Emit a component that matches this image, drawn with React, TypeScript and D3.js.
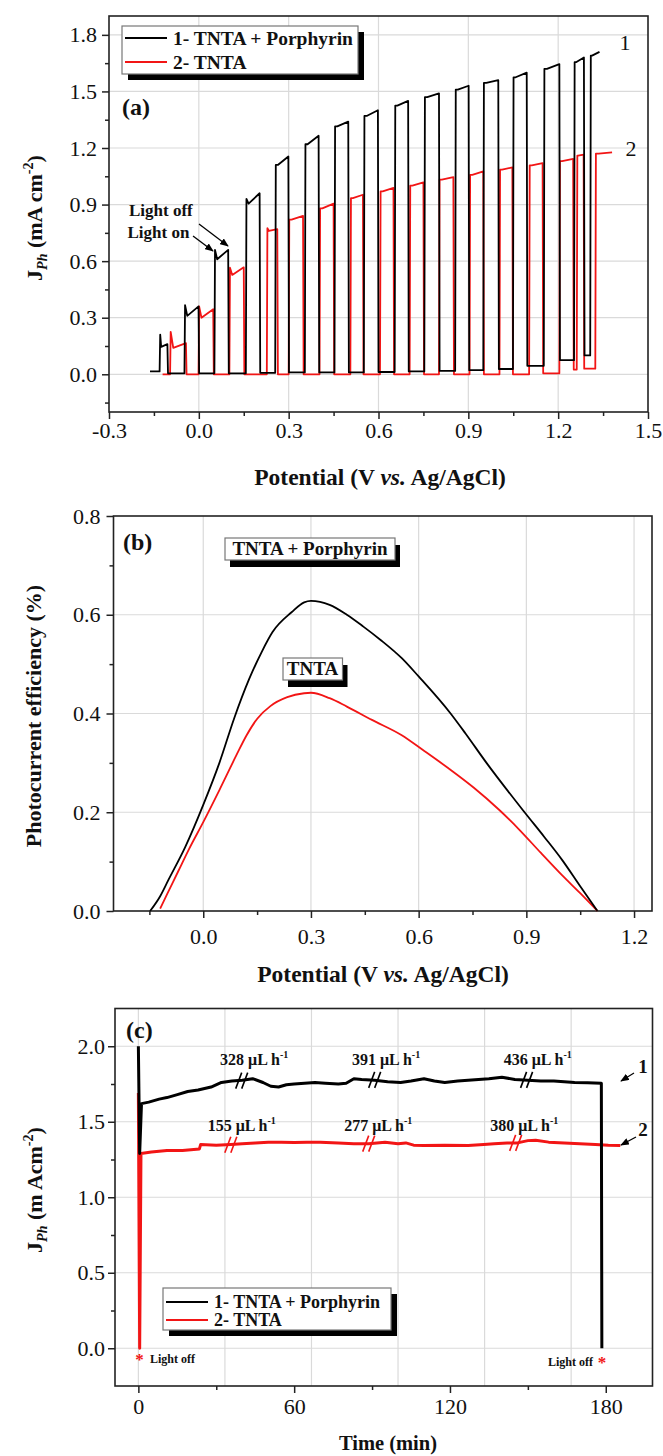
import { useEffect, useRef } from "react";
import * as d3 from "d3";

// ---------- (a) chopped-light photocurrent vs potential ----------
// pulse edges (V) and current levels (mA cm-2)
const aBlackStart = -0.163;
const aBlackOn = [-0.131, -0.048, 0.052, 0.157, 0.255, 0.354, 0.453, 0.551, 0.654, 0.753, 0.856, 0.95, 1.049, 1.152, 1.253, 1.307];
const aBlackOff = [-0.105, -0.001, 0.098, 0.203, 0.299, 0.4, 0.499, 0.598, 0.699, 0.802, 0.901, 1.0, 1.095, 1.204, 1.286, 1.338];
const aBlackSpike = [0.21, 0.367, 0.66, 0.93, 1.11, 1.22, 1.315, 1.37, 1.425, 1.47, 1.51, 1.545, 1.575, 1.62, 1.655, 1.69];
const aBlackLow = [0.145, 0.31, 0.61, 0.905, 1.11, 1.22, 1.315, 1.37, 1.425, 1.47, 1.51, 1.545, 1.575, 1.62, 1.655, 1.69];
const aBlackHigh = [0.16, 0.36, 0.66, 0.96, 1.155, 1.265, 1.34, 1.4, 1.45, 1.49, 1.53, 1.56, 1.6, 1.645, 1.68, 1.71];
const aBlackDark = [0.015, 0.005, 0.005, 0.005, 0.008, 0.01, 0.01, 0.01, 0.012, 0.015, 0.018, 0.022, 0.028, 0.045, 0.075, 0.1];

const aRedStart = -0.121;
const aRedOn = [-0.096, -0.001, 0.102, 0.227, 0.3, 0.403, 0.506, 0.605, 0.704, 0.802, 0.904, 1.004, 1.103, 1.204, 1.262, 1.324];
const aRedOff = [-0.043, 0.048, 0.15, 0.262, 0.348, 0.45, 0.548, 0.65, 0.75, 0.85, 0.95, 1.047, 1.148, 1.25, 1.285, 1.38];
const aRedSpike = [0.225, 0.36, 0.565, 0.775, 0.82, 0.88, 0.934, 0.97, 1.0, 1.032, 1.058, 1.085, 1.108, 1.13, 1.16, 1.17];
const aRedLow = [0.14, 0.3, 0.527, 0.76, 0.82, 0.88, 0.934, 0.97, 1.0, 1.032, 1.058, 1.085, 1.108, 1.13, 1.16, 1.17];
const aRedHigh = [0.165, 0.345, 0.567, 0.77, 0.84, 0.905, 0.952, 0.988, 1.018, 1.046, 1.076, 1.097, 1.12, 1.142, 1.165, 1.177];
const aRedDark = [0, 0, 0, 0, 0, 0, 0, 0, 0, 0, 0, 0, 0, 0.005, 0.025, 0.03];

// ---------- (b) photocurrent efficiency ----------
const bBlackV = [-0.148, -0.12, -0.097, -0.05, 0.0, 0.045, 0.086, 0.128, 0.163, 0.193, 0.246, 0.281, 0.3, 0.352, 0.4, 0.446, 0.494, 0.553, 0.6, 0.689, 0.73, 0.789, 0.895, 0.95, 1.0, 1.05, 1.098];
const bBlackE = [0, 0.03, 0.063, 0.13, 0.215, 0.3, 0.39, 0.47, 0.525, 0.565, 0.605, 0.625, 0.628, 0.62, 0.6, 0.576, 0.549, 0.512, 0.475, 0.4, 0.36, 0.3, 0.2, 0.15, 0.103, 0.05, 0];
const bRedV = [-0.12, -0.1, -0.07, -0.04, 0.0, 0.045, 0.092, 0.12, 0.151, 0.187, 0.234, 0.281, 0.3, 0.352, 0.4, 0.47, 0.553, 0.612, 0.683, 0.753, 0.824, 0.88, 0.94, 1.0, 1.05, 1.098];
const bRedE = [0.005, 0.035, 0.08, 0.125, 0.18, 0.245, 0.315, 0.355, 0.39, 0.415, 0.433, 0.441, 0.442, 0.431, 0.414, 0.387, 0.356, 0.326, 0.289, 0.25, 0.205, 0.165, 0.118, 0.072, 0.036, 0];

// ---------- (c) long-term photocurrent ----------
const cBlackT = [0, 0.5, 1.2, 4, 8, 11, 15, 19, 23, 28, 32, 36, 40, 44, 48, 51, 54, 57, 60, 64, 68, 72, 77, 80, 83, 86, 91, 96, 101, 105, 110, 114, 118, 123, 127, 131, 135, 140, 145, 150, 155, 160, 164, 168, 173, 178.3, 178.5];
const cBlackJ = [2.0, 1.29, 1.62, 1.63, 1.65, 1.66, 1.68, 1.7, 1.71, 1.73, 1.76, 1.77, 1.775, 1.785, 1.76, 1.735, 1.73, 1.745, 1.75, 1.755, 1.76, 1.755, 1.75, 1.755, 1.785, 1.78, 1.775, 1.765, 1.76, 1.77, 1.785, 1.77, 1.76, 1.77, 1.775, 1.78, 1.785, 1.795, 1.78, 1.775, 1.77, 1.77, 1.765, 1.76, 1.758, 1.755, 0.0];
const cRedT = [0, 0.5, 1, 5, 11, 17, 23.5, 24, 30, 35.6, 40, 45, 50, 55, 60, 65, 70, 77, 83, 88.7, 95, 100, 103, 106, 110, 118, 127, 133, 137, 142, 146, 150, 153, 158, 164, 170, 176, 181, 185.6];
const cRedJ = [1.69, 0.0, 1.29, 1.3, 1.31, 1.31, 1.32, 1.35, 1.345, 1.35, 1.355, 1.36, 1.365, 1.365, 1.362, 1.365, 1.365, 1.36, 1.355, 1.355, 1.365, 1.355, 1.36, 1.345, 1.343, 1.345, 1.343, 1.35, 1.355, 1.36, 1.36, 1.375, 1.378, 1.365, 1.36, 1.355, 1.35, 1.345, 1.343];
const cBlackBreaks = [39.8, 91, 149.5];
const cRedBreaks = [35.6, 88.7, 145.3];
const cBlackRates = ["328", "391", "436"];
const cBlackRateT = [44.6, 95.4, 153.8];
const cRedRates = ["155", "277", "380"];
const cRedRateT = [39.8, 92.4, 148.6];

const legendNames = ["1- TNTA + Porphyrin", "2- TNTA"];

const FONT = "'Liberation Serif', 'Times New Roman', serif";
const RED = "#f21515";
const INK = "#111";

type Scale = d3.ScaleLinear<number, number>;

function pulseTrain(start: number, on: number[], off: number[], spike: number[], low: number[], high: number[], dark: number[]) {
  const pts: [number, number][] = [[start, dark[0]]];
  on.forEach((v, i) => {
    const w = off[i] - v;
    pts.push([v, dark[i]], [v + 0.002, spike[i]], [v + 0.2 * w, low[i]], [off[i], high[i]]);
    if (i + 1 < on.length) pts.push([off[i] + 0.002, dark[i + 1]]);
  });
  return pts;
}

function drawFrame(g: any, x: Scale, y: Scale, o: any) {
  const [l, r] = x.range();
  const [b, t] = y.range();
  g.append("g").selectAll("line").data(o.xGrid).join("line")
    .attr("x1", (d: number) => x(d)).attr("x2", (d: number) => x(d)).attr("y1", b).attr("y2", t)
    .attr("stroke", "#dadada").attr("stroke-width", 1.2);
  g.append("g").selectAll("line").data(o.yGrid).join("line")
    .attr("y1", (d: number) => y(d)).attr("y2", (d: number) => y(d)).attr("x1", l).attr("x2", r)
    .attr("stroke", "#dadada").attr("stroke-width", 1.2);

  const style = (ax: any) => {
    ax.select(".domain").remove();
    ax.selectAll("line").attr("stroke", "#222").attr("stroke-width", 1.5);
    ax.selectAll("text").attr("font-family", FONT).attr("font-size", 22).attr("fill", INK);
  };
  style(g.append("g").attr("transform", `translate(0,${b})`)
    .call(d3.axisBottom(x).tickValues(o.xMajor).tickSize(7).tickPadding(o.xPad).tickFormat(o.xFmt)));
  style(g.append("g").attr("transform", `translate(0,${b})`)
    .call(d3.axisBottom(x).tickValues(o.xMinor).tickSize(4).tickFormat(() => "")));
  style(g.append("g").attr("transform", `translate(${l},0)`)
    .call(d3.axisLeft(y).tickValues(o.yMajor).tickSize(7).tickPadding(o.yPad).tickFormat(o.yFmt)));
  style(g.append("g").attr("transform", `translate(${l},0)`)
    .call(d3.axisLeft(y).tickValues(o.yMinor).tickSize(4).tickFormat(() => "")));

  g.append("rect").attr("x", l).attr("y", t).attr("width", r - l).attr("height", b - t)
    .attr("fill", "none").attr("stroke", "#222").attr("stroke-width", 1.6);
}

function jTitle(g: any, cx: number, cy: number, unit: string) {
  const t = g.append("text").attr("transform", `translate(${cx},${cy}) rotate(-90)`)
    .attr("text-anchor", "middle").attr("font-family", FONT).attr("font-weight", "bold")
    .attr("font-size", 22).attr("fill", INK);
  t.append("tspan").text("J");
  t.append("tspan").attr("font-size", 14).attr("font-style", "italic").attr("dy", 5).text("Ph");
  t.append("tspan").attr("dy", -5).text(` (${unit}`);
  t.append("tspan").attr("font-size", 14).attr("dy", -9).text("-2");
  t.append("tspan").attr("dy", 9).text(")");
}

function xTitle(g: any, cx: number, by: number, size: number, potential: boolean) {
  const t = g.append("text").attr("x", cx).attr("y", by).attr("text-anchor", "middle")
    .attr("font-family", FONT).attr("font-weight", "bold").attr("font-size", size).attr("fill", INK);
  if (potential) {
    t.append("tspan").text("Potential (V ");
    t.append("tspan").attr("font-style", "italic").text("vs.");
    t.append("tspan").text(" Ag/AgCl)");
  } else t.text("Time (min)");
}

function shadowBox(g: any, x0: number, y0: number, w: number, h: number, dx: number, dy: number) {
  g.append("rect").attr("x", x0 + dx).attr("y", y0 + dy).attr("width", w).attr("height", h).attr("fill", "#000");
  g.append("rect").attr("x", x0).attr("y", y0).attr("width", w).attr("height", h)
    .attr("fill", "#fff").attr("stroke", "#777").attr("stroke-width", 1.2);
}

function legend(g: any, x0: number, y0: number, w: number, h: number, size: number, rows: number[]) {
  shadowBox(g, x0, y0, w, h, 6, 6);
  legendNames.forEach((name, i) => {
    g.append("line").attr("x1", x0 + 3).attr("x2", x0 + 45).attr("y1", rows[i]).attr("y2", rows[i])
      .attr("stroke", i === 0 ? "#000" : RED).attr("stroke-width", 2);
    g.append("text").attr("x", x0 + 51).attr("y", rows[i]).attr("dy", "0.35em")
      .attr("font-family", FONT).attr("font-weight", "bold").attr("font-size", size).attr("fill", INK).text(name);
  });
}

function label(g: any, x0: number, y0: number, text: string, size: number, weight = "bold", anchor = "start", fill = INK) {
  return g.append("text").attr("x", x0).attr("y", y0).attr("text-anchor", anchor)
    .attr("font-family", FONT).attr("font-weight", weight).attr("font-size", size).attr("fill", fill).text(text);
}

function arrow(g: any, x1: number, y1: number, x2: number, y2: number) {
  g.append("line").attr("x1", x1).attr("y1", y1).attr("x2", x2).attr("y2", y2)
    .attr("stroke", "#000").attr("stroke-width", 1.3).attr("marker-end", "url(#head)");
}

const fmt1 = (d: number) => d.toFixed(1);

const App = () => {
  const svgRef = useRef<SVGSVGElement>(null);

  useEffect(() => {
    const svg = d3.select(svgRef.current);
    svg.selectAll("*").remove();
    svg.append("defs").append("marker").attr("id", "head").attr("viewBox", "0 0 10 8")
      .attr("refX", 9).attr("refY", 4).attr("markerUnits", "userSpaceOnUse")
      .attr("markerWidth", 9).attr("markerHeight", 7).attr("orient", "auto")
      .append("path").attr("d", "M0,0 L10,4 L0,8 Z").attr("fill", "#000");

    // ----- panel (a) -----
    const ga = svg.append("g");
    const xa = d3.scaleLinear().domain([-0.3, 1.5]).range([109, 648]);
    const ya = d3.scaleLinear().domain([-0.2, 1.9]).range([412, 16]);
    drawFrame(ga, xa, ya, {
      xGrid: [0, 0.3, 0.6, 0.9, 1.2], yGrid: [0, 0.3, 0.6, 0.9, 1.2, 1.5, 1.8],
      xMajor: [-0.3, 0, 0.3, 0.6, 0.9, 1.2, 1.5], xMinor: [-0.15, 0.15, 0.45, 0.75, 1.05, 1.35],
      yMajor: [0, 0.3, 0.6, 0.9, 1.2, 1.5, 1.8], yMinor: [-0.15, 0.15, 0.45, 0.75, 1.05, 1.35, 1.65],
      xPad: 3, yPad: 5, xFmt: fmt1, yFmt: fmt1,
    });
    const lineA = d3.line<[number, number]>().x((d) => xa(d[0])).y((d) => ya(d[1]));
    ga.append("path").attr("d", lineA(pulseTrain(aRedStart, aRedOn, aRedOff, aRedSpike, aRedLow, aRedHigh, aRedDark)))
      .attr("fill", "none").attr("stroke", RED).attr("stroke-width", 1.8).attr("stroke-linejoin", "round");
    ga.append("path").attr("d", lineA(pulseTrain(aBlackStart, aBlackOn, aBlackOff, aBlackSpike, aBlackLow, aBlackHigh, aBlackDark)))
      .attr("fill", "none").attr("stroke", "#000").attr("stroke-width", 1.8).attr("stroke-linejoin", "round");
    legend(ga, 122, 26, 236, 48, 19.5, [38, 62]);
    label(ga, 122, 115, "(a)", 24);
    label(ga, 625, 50, "1", 22, "normal", "middle");
    label(ga, 631, 156, "2", 22, "normal", "middle");
    label(ga, 129, 216, "Light off", 17);
    label(ga, 127.5, 238, "Light on", 17);
    arrow(ga, 199, 224, 228, 246);
    arrow(ga, 193, 236, 213, 251);
    jTitle(ga, 42, 218, "mA cm");
    xTitle(ga, 380, 485, 23.5, true);

    // ----- panel (b) -----
    const gb = svg.append("g");
    const xb = d3.scaleLinear().domain([-0.25, 1.25]).range([113.5, 652]);
    const yb = d3.scaleLinear().domain([0, 0.8]).range([911, 516]);
    drawFrame(gb, xb, yb, {
      xGrid: [0, 0.3, 0.6, 0.9, 1.2], yGrid: [0.2, 0.4, 0.6],
      xMajor: [0, 0.3, 0.6, 0.9, 1.2], xMinor: [-0.15, 0.15, 0.45, 0.75, 1.05],
      yMajor: [0, 0.2, 0.4, 0.6, 0.8], yMinor: [0.1, 0.3, 0.5, 0.7],
      xPad: 10, yPad: 6, xFmt: fmt1, yFmt: fmt1,
    });
    const lineB = d3.line<number>().curve(d3.curveMonotoneX);
    gb.append("path")
      .attr("d", lineB.x((_, i) => xb(bRedV[i])).y((d) => yb(d))(bRedE))
      .attr("fill", "none").attr("stroke", RED).attr("stroke-width", 1.8);
    gb.append("path")
      .attr("d", lineB.x((_, i) => xb(bBlackV[i])).y((d) => yb(d))(bBlackE))
      .attr("fill", "none").attr("stroke", "#000").attr("stroke-width", 1.8);
    label(gb, 123, 550, "(b)", 24);
    shadowBox(gb, 225, 538, 170, 22, 5, 7);
    label(gb, 310, 555, "TNTA + Porphyrin", 19, "bold", "middle");
    shadowBox(gb, 283, 658, 59.5, 22, 5, 7);
    label(gb, 312.5, 675, "TNTA", 19, "bold", "middle");
    gb.append("text").attr("transform", "translate(41,716) rotate(-90)").attr("text-anchor", "middle")
      .attr("font-family", FONT).attr("font-weight", "bold").attr("font-size", 22).attr("fill", INK)
      .text("Photocurrent efficiency (%)");
    xTitle(gb, 383, 982, 23.5, true);

    // ----- panel (c) -----
    const gc = svg.append("g");
    const xc = d3.scaleLinear().domain([-9, 198]).range([115, 652.5]);
    const yc = d3.scaleLinear().domain([-0.25, 2.25]).range([1386, 1008.5]);
    drawFrame(gc, xc, yc, {
      xGrid: [0, 200 / 6, 400 / 6, 100, 800 / 6, 1000 / 6], yGrid: [0, 0.5, 1, 1.5, 2],
      xMajor: [0, 60, 120, 180], xMinor: [30, 90, 150],
      yMajor: [0, 0.5, 1, 1.5, 2], yMinor: [0.25, 0.75, 1.25, 1.75],
      xPad: 5, yPad: 3, xFmt: (d: number) => String(d), yFmt: fmt1,
    });
    const lineC = d3.line<number>();
    gc.append("path")
      .attr("d", lineC.x((_, i) => xc(cRedT[i])).y((d) => yc(d))(cRedJ))
      .attr("fill", "none").attr("stroke", RED).attr("stroke-width", 3).attr("stroke-linejoin", "round");
    gc.append("path")
      .attr("d", lineC.x((_, i) => xc(cBlackT[i])).y((d) => yc(d))(cBlackJ))
      .attr("fill", "none").attr("stroke", "#000").attr("stroke-width", 3).attr("stroke-linejoin", "round");

    const breaks = (ts: number[], tt: number[], jj: number[], color: string) => {
      ts.forEach((t) => {
        const px = xc(t);
        const k = d3.bisectLeft(tt, t);
        const py = yc((jj[k - 1] + jj[k]) / 2);
        [-3, 3].forEach((dx) => {
          gc.append("line").attr("x1", px + dx - 3).attr("y1", py + 8).attr("x2", px + dx + 3).attr("y2", py - 8)
            .attr("stroke", color).attr("stroke-width", 1.6);
        });
      });
    };
    breaks(cBlackBreaks, cBlackT, cBlackJ, "#000");
    breaks(cRedBreaks, cRedT, cRedJ, RED);

    const rate = (v: string, t: number, cy: number) => {
      const tx = gc.append("text").attr("x", xc(t)).attr("y", cy).attr("text-anchor", "middle")
        .attr("font-family", FONT).attr("font-weight", "bold").attr("font-size", 16).attr("fill", INK);
      tx.append("tspan").text(`${v} \u03bcL h`);
      tx.append("tspan").attr("font-size", 10).attr("dy", -7).text("-1");
    };
    cBlackRates.forEach((v, i) => rate(v, cBlackRateT[i], 1065));
    cRedRates.forEach((v, i) => rate(v, cRedRateT[i], 1131));

    label(gc, 126, 1038, "(c)", 24);
    legend(gc, 163, 1288, 228, 42, 18, [1302, 1320]);
    label(gc, 643, 1073, "1", 19, "bold", "middle");
    label(gc, 643, 1136, "2", 19, "bold", "middle");
    arrow(gc, 634, 1073, 621, 1081);
    arrow(gc, 636, 1137, 621, 1145);
    label(gc, 139.5, 1365, "*", 17, "bold", "middle", RED);
    label(gc, 150, 1363, "Light off", 12);
    label(gc, 593, 1366, "Light off", 12, "bold", "end");
    label(gc, 602, 1368, "*", 17, "bold", "middle", RED);
    jTitle(gc, 42, 1190, "m Acm");
    xTitle(gc, 388, 1450, 20.5, false);
  }, []);

  return (
    <svg
      ref={svgRef}
      width={663}
      height={1456}
      style={{ position: "absolute", left: 0, top: 0, background: "#fff" }}
    />
  );
};

export default App;
